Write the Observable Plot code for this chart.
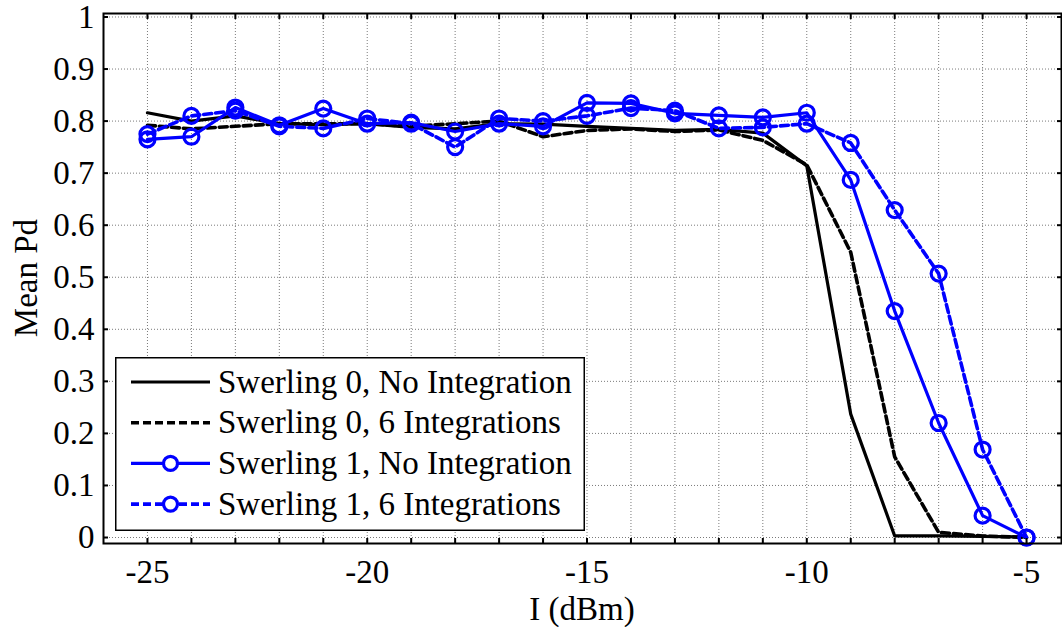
<!DOCTYPE html>
<html><head><meta charset="utf-8">
<script src="https://cdn.jsdelivr.net/npm/d3@7"></script>
<script src="https://cdn.jsdelivr.net/npm/@observablehq/plot@0.6"></script>
<style>
body{margin:0;background:#fff;}
#wrap{position:relative;width:1062px;height:627px;font-family:"Liberation Serif","Times New Roman",serif;color:#000;}
#wrap svg, #wrap svg text{font-family:"Liberation Serif","Times New Roman",serif !important;}
.lbl{position:absolute;font-size:33px;line-height:30px;white-space:nowrap;}
#legend{position:absolute;left:115px;top:357px;}
</style></head><body><div id="wrap"></div>
<script>
const xValues = [-25,-24,-23,-22,-21,-20,-19,-18,-17,-16,-15,-14,-13,-12,-11,-10,-9,-8,-7,-6,-5];
const s0NoInt = [0.816,0.800,0.810,0.795,0.793,0.795,0.788,0.785,0.795,0.794,0.790,0.786,0.782,0.784,0.777,0.714,0.237,0.003,0.003,0.002,0.001];
const s0Int6  = [0.792,0.785,0.790,0.795,0.795,0.795,0.790,0.795,0.800,0.770,0.782,0.785,0.780,0.783,0.763,0.716,0.548,0.155,0.010,0.003,0.000];
const s1NoInt = [0.765,0.770,0.826,0.792,0.824,0.795,0.797,0.780,0.795,0.790,0.835,0.834,0.815,0.811,0.807,0.816,0.687,0.435,0.220,0.042,0.000];
const s1Int6  = [0.775,0.810,0.820,0.790,0.786,0.805,0.795,0.750,0.805,0.800,0.810,0.825,0.820,0.786,0.788,0.795,0.758,0.629,0.507,0.169,0.000];
const seriesNames = ["Swerling 0, No Integration","Swerling 0, 6 Integrations","Swerling 1, No Integration","Swerling 1, 6 Integrations"];
const xTickLabels = [-25,-20,-15,-10,-5];
const xMinorTicks = [-25,-24,-23,-22,-21,-20,-19,-18,-17,-16,-15,-14,-13,-12,-11,-10,-9,-8,-7,-6,-5];
const yTicks = [0,0.1,0.2,0.3,0.4,0.5,0.6,0.7,0.8,0.9,1];
const xLabel = "I (dBm)";
const yLabel = "Mean Pd";

const toRows = (vals) => xValues.map((x, i) => ({x, y: vals[i]}));
const d0 = toRows(s0NoInt), d1 = toRows(s0Int6), d2 = toRows(s1NoInt), d3r = toRows(s1Int6);
const BLUE = "#0000ff";
const font = '"Liberation Serif","Times New Roman",serif';
const gridStyle = {stroke:"#7a7a7a", strokeOpacity:1, strokeWidth:1, strokeDasharray:"1,2"};
const DASH = "8,4";

const chart = Plot.plot({
  width:1062, height:627,
  marginLeft:103, marginRight:1, marginTop:13, marginBottom:84,
  x:{domain:[-26,-4.205], axis:null},
  y:{domain:[-0.0115,1.0067], axis:null},
  style:{fontFamily:font, fontSize:"33px", color:"black", background:"white", overflow:"visible"},
  marks:[
    Plot.gridX(xMinorTicks, gridStyle),
    Plot.gridY(yTicks, gridStyle),
    Plot.line(d0, {x:"x", y:"y", stroke:"black", strokeWidth:3.2}),
    Plot.line(d1, {x:"x", y:"y", stroke:"black", strokeWidth:3.6, strokeDasharray:DASH}),
    Plot.line(d2, {x:"x", y:"y", stroke:BLUE, strokeWidth:3.2}),
    Plot.dot(d2, {x:"x", y:"y", r:7.5, stroke:BLUE, strokeWidth:3.2, fill:"none"}),
    Plot.line(d3r, {x:"x", y:"y", stroke:BLUE, strokeWidth:3.6, strokeDasharray:DASH}),
    Plot.dot(d3r, {x:"x", y:"y", r:7.5, stroke:BLUE, strokeWidth:3.2, fill:"none"}),
    Plot.frame({stroke:"black", strokeWidth:2}),
    Plot.axisX(xMinorTicks, {anchor:"bottom", tickSize:-5, tickFormat:() => "", label:null, strokeWidth:2}),
    Plot.axisX(xMinorTicks, {anchor:"top", tickSize:-5, tickFormat:() => "", label:null, strokeWidth:2}),
    Plot.axisY(yTicks, {anchor:"left", tickSize:-5, tickFormat:() => "", label:null, strokeWidth:2}),
    Plot.axisY(yTicks, {anchor:"right", tickSize:-5, tickFormat:() => "", label:null, strokeWidth:2}),
    Plot.axisX(xTickLabels, {anchor:"bottom", tickSize:0, tickPadding:16, label:null, fontSize:33, fontFamily:font, tickFormat:d => String(d)}),
    Plot.axisY(yTicks, {anchor:"left", tickSize:0, tickPadding:9, label:null, fontSize:33, fontFamily:font, tickFormat:d => String(+d.toFixed(1))})
  ]
});
const wrap = document.getElementById("wrap");
wrap.appendChild(chart);

// axis titles
const xl = document.createElement("div");
xl.className = "lbl"; xl.textContent = xLabel;
xl.style.left = "582px"; xl.style.top = "594px"; xl.style.transform = "translateX(-50%)";
wrap.appendChild(xl);
const yl = document.createElement("div");
yl.className = "lbl"; yl.textContent = yLabel;
yl.style.left = "26px"; yl.style.top = "278px"; yl.style.transform = "translate(-50%,-50%) rotate(-90deg)";
wrap.appendChild(yl);

// legend
const styles = [
  {stroke:"black", dash:null, marker:false, w:3.2},
  {stroke:"black", dash:DASH, marker:false, w:3.6},
  {stroke:BLUE, dash:null, marker:true, w:3.2},
  {stroke:BLUE, dash:DASH, marker:true, w:3.6}
];
const ns = "http://www.w3.org/2000/svg";
const lg = document.createElementNS(ns, "svg");
lg.setAttribute("id","legend"); lg.setAttribute("width", 470); lg.setAttribute("height", 175);
const rect = document.createElementNS(ns, "rect");
rect.setAttribute("x",0.75); rect.setAttribute("y",0.75); rect.setAttribute("width",468.5); rect.setAttribute("height",172.5);
rect.setAttribute("fill","white"); rect.setAttribute("stroke","black"); rect.setAttribute("stroke-width",1.5);
lg.appendChild(rect);
seriesNames.forEach((name, i) => {
  const cy = 25 + i * 40.7;
  const s = styles[i];
  const ln = document.createElementNS(ns, "line");
  ln.setAttribute("x1",16); ln.setAttribute("x2",95); ln.setAttribute("y1",cy); ln.setAttribute("y2",cy);
  ln.setAttribute("stroke", s.stroke); ln.setAttribute("stroke-width", s.w);
  if (s.dash) ln.setAttribute("stroke-dasharray", s.dash);
  lg.appendChild(ln);
  if (s.marker) {
    const c = document.createElementNS(ns, "circle");
    c.setAttribute("cx",55.5); c.setAttribute("cy",cy); c.setAttribute("r",7);
    c.setAttribute("fill","white"); c.setAttribute("stroke", s.stroke); c.setAttribute("stroke-width",3.2);
    lg.appendChild(c);
  }
  const t = document.createElementNS(ns, "text");
  t.setAttribute("x",103); t.setAttribute("y",cy + 10.5);
  t.setAttribute("font-family", font); t.setAttribute("font-size", 33); t.setAttribute("fill","black");
  t.textContent = name;
  lg.appendChild(t);
});
wrap.appendChild(lg);
</script>
</body></html>
